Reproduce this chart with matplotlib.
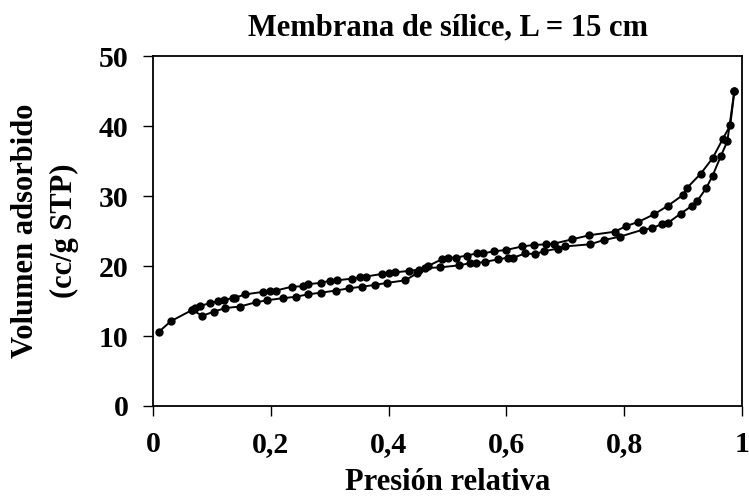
import matplotlib.pyplot as plt

plt.rcParams['font.family'] = ['Liberation Serif', 'DejaVu Serif']
plt.rcParams['font.weight'] = 'bold'

# rama de adsorción (inferior)
p_ads = [0.010, 0.030, 0.066, 0.084, 0.104, 0.123, 0.147, 0.174, 0.193, 0.220,
         0.242, 0.263, 0.286, 0.311, 0.332, 0.355, 0.377, 0.398, 0.428, 0.448,
         0.462, 0.487, 0.520, 0.538, 0.548, 0.564, 0.586, 0.603, 0.612, 0.632,
         0.649, 0.663, 0.688, 0.700, 0.742, 0.765, 0.793, 0.832, 0.847, 0.864,
         0.875, 0.896, 0.915, 0.924, 0.939, 0.950, 0.964, 0.975, 0.987]
v_ads = [10.6, 12.1, 13.7, 12.9, 13.5, 14.0, 14.2, 14.8, 15.1, 15.4,
         15.6, 15.95, 16.2, 16.5, 16.8, 17.05, 17.3, 17.6, 17.95, 18.95,
         19.7, 19.8, 20.1, 20.4, 20.4, 20.6, 20.95, 21.2, 21.2, 21.8,
         21.7, 22.1, 22.5, 22.8, 23.1, 23.7, 24.2, 25.2, 25.4, 26.0,
         26.2, 27.5, 28.6, 29.3, 31.1, 32.9, 35.7, 37.8, 45.0]

# rama de desorción (superior)
p_des = [0.987, 0.980, 0.967, 0.950, 0.930, 0.906, 0.899, 0.874, 0.851, 0.824,
         0.803, 0.784, 0.741, 0.711, 0.681, 0.668, 0.646, 0.627, 0.600, 0.579,
         0.560, 0.550, 0.533, 0.514, 0.500, 0.490, 0.467, 0.451, 0.435, 0.411,
         0.401, 0.388, 0.362, 0.351, 0.338, 0.312, 0.300, 0.286, 0.263, 0.254,
         0.236, 0.209, 0.199, 0.186, 0.157, 0.140, 0.136, 0.121, 0.111, 0.097,
         0.080, 0.071, 0.066]
v_des = [45.0, 40.1, 38.1, 35.4, 33.2, 31.1, 30.1, 28.6, 27.4, 26.3,
         25.7, 24.9, 24.4, 23.8, 23.2, 23.1, 23.0, 22.8, 22.3, 22.1,
         21.8, 21.8, 21.5, 21.2, 21.2, 20.95, 20.0, 19.5, 19.3, 19.1,
         18.95, 18.86, 18.5, 18.4, 18.2, 17.95, 17.9, 17.6, 17.4, 17.1,
         17.05, 16.5, 16.5, 16.3, 15.95, 15.5, 15.4, 15.2, 15.0, 14.7,
         14.3, 14.05, 13.7]

x_ticks = [0, 0.2, 0.4, 0.6, 0.8, 1]
x_labels = ['0', '0,2', '0,4', '0,6', '0,8', '1']
y_ticks = [0, 10, 20, 30, 40, 50]

fig = plt.figure(figsize=(7.49, 4.97), dpi=100)
ax = fig.add_axes([0.2043, 0.1831, 0.7864, 0.7042])

ax.plot(p_ads, v_ads, color='black', linewidth=1.4, marker='o', markersize=5)
ax.plot(p_des, v_des, color='black', linewidth=1.4, marker='o', markersize=5)

ax.set_xlim(0, 1)
ax.set_ylim(0, 50)
ax.set_xticks(x_ticks)
ax.set_xticklabels(x_labels)
ax.set_yticks(y_ticks)
ax.tick_params(direction='out', length=7.2, width=1, labelsize=21.5)
ax.tick_params(axis='x', pad=11)
ax.tick_params(axis='y', pad=10.5)
for s in ax.spines.values():
    s.set_linewidth(1.3)

ax.set_title('Membrana de sílice, L = 15 cm', fontsize=22, fontweight='bold', pad=15)
ax.set_xlabel('Presión relativa', fontsize=22, fontweight='bold', va='baseline')
ax.xaxis.set_label_coords(0.5, -0.24)
ax.set_ylabel('Volumen adsorbido\n(cc/g STP)', fontsize=22, fontweight='bold',
              va='center', linespacing=1.45)
ax.yaxis.set_label_coords(-0.183, 0.5)

fig.savefig('out.png', dpi=100)
